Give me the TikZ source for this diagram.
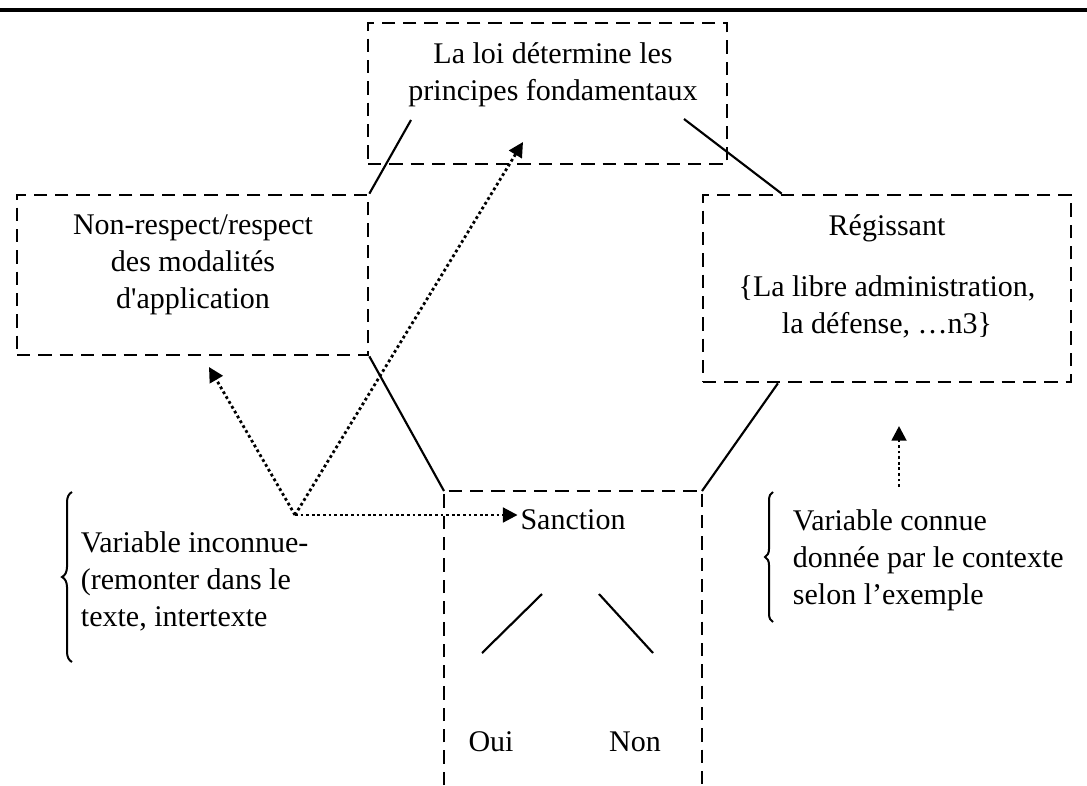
\documentclass[tikz,border=0pt]{standalone}
\usepackage{fontspec}
\setmainfont{Liberation Serif}
\usetikzlibrary{arrows.meta,decorations.pathreplacing}

\tikzset{
  texte/.style={font=\fontsize{22.5}{27.75}\selectfont, align=center, inner sep=2pt},
  boite/.style={draw, line width=2pt, dash pattern=on 10pt off 6pt, inner sep=0pt},
  trait/.style={line width=1.6pt},
  pointille/.style={line width=2.1pt, dash pattern=on 2.1pt off 2.1pt},
  fleche/.style={pointille, -{Triangle[length=11pt,width=11pt]}},
  accolade/.style={decorate, decoration={brace, amplitude=#1}, line width=1.5pt}
}

\begin{document}
\begin{tikzpicture}[x=0.75pt,y=-0.75pt]
        \useasboundingbox (0,0) rectangle (1087,785);
        \draw[line width=3pt] (0,10) -- (1087,10);

        % les trois boites
        \node[boite, minimum width=269.25pt, minimum height=105.75pt] (loi) at (547.5,93.5) {};
        \node[boite, minimum width=263.25pt, minimum height=120pt] (modal) at (192.5,275) {};
        \node[boite, minimum width=276pt, minimum height=140.25pt] (regis) at (887,288.5) {};
        \coordinate (sancG) at (444,491);
        \coordinate (sancD) at (702,491);
        \draw[line width=2pt, dash pattern=on 10pt off 6pt] (444,785) -- (sancG) -- (sancD) -- (702,785);

        % textes
        \node[texte] (loiT) at (553,75) {La loi détermine les\\principes fondamentaux};
        \node[texte] (modalT) at (193,265) {Non-respect/respect\\des modalités\\d\textquotesingle application};
        \node[texte] (regisT) at (887,228) {Régissant};
        \node[texte] (listeT) at (887,307) {\{La libre administration,\\la défense, …n3\}};
        \node[texte] (sanc) at (573,520) {Sanction};
        \node[texte] (oui) at (491,742) {Oui};
        \node[texte] (non) at (635,742) {Non};
        \node[texte, align=left, anchor=west] (inconnue) at (78,581) {Variable inconnue-\\(remonter dans le\\texte, intertexte};
        \node[texte, align=left, anchor=west] (connue) at (790,560) {Variable connue\\donnée par le contexte\\selon l’exemple};

        % liens
        \coordinate (loiG) at (411,120);
        \coordinate (loiD) at (684,119);
        \draw[trait] (loiG) -- (modal.north east);
        \draw[trait] (loiD) -- (regis.138.3);
        \draw[trait] (modal.south east) -- (sancG);
        \draw[trait] (regis.221.7) -- (sancD);
        \coordinate (ouiH) at (542,594);
        \coordinate (ouiB) at (482,653);
        \coordinate (nonH) at (599,594);
        \coordinate (nonB) at (653,653);
        \draw[trait] (ouiH) -- (ouiB);
        \draw[trait] (nonH) -- (nonB);

        % fleches
        \coordinate (var) at (295,515);
        \coordinate (versModal) at (209,367);
        \coordinate (versLoi) at (523,142);
        \draw[fleche] (var) -- (versModal);
        \draw[fleche] (var) -- (versLoi);
        \draw[fleche] (var) -- (var -| sanc.west);
        \coordinate (ctxB) at (899,487);
        \coordinate (ctxH) at (899,426);
        \draw[fleche] (ctxB) -- (ctxH);

        % accolades
        \draw[accolade=7.5pt] (72,662) -- (72,492);
        \draw[accolade=6pt] (773,622) -- (773,492);
    \end{tikzpicture}
\end{document}
